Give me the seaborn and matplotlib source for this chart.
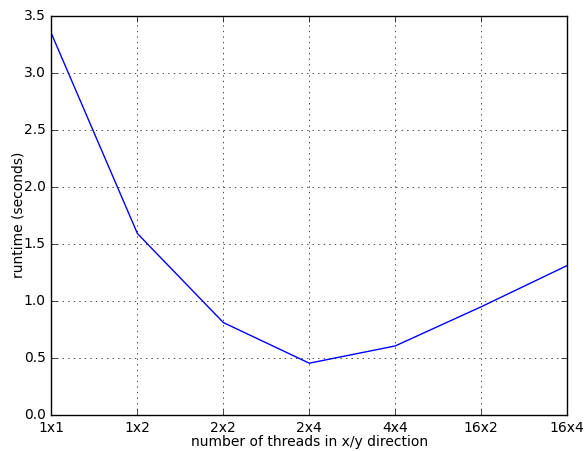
import matplotlib
matplotlib.use("Agg")
import matplotlib.pyplot as plt
import seaborn as sns
import pandas as pd

categories = ["1x1", "1x2", "2x2", "2x4", "4x4", "16x2", "16x4"]
runtime = [3.34, 1.59, 0.81, 0.454, 0.605, 0.948, 1.309]

plt.style.use("classic")
plt.rcParams["font.family"] = ["DejaVu Sans"]
plt.rcParams["font.size"] = 10
plt.rcParams["figure.facecolor"] = "white"

df = pd.DataFrame({"threads": categories, "runtime": runtime})

fig = plt.figure(figsize=(5.87, 4.51), dpi=100)
ax = fig.add_axes([0.0877, 0.0798, 0.966 - 0.0877, 0.9656 - 0.0798])
sns.lineplot(data=df, x="threads", y="runtime", sort=False, color="blue",
             linewidth=1.0, ax=ax)
ax.set_xlim(0, len(categories) - 1)
ax.set_ylim(0, 3.5)
ax.set_yticks([0.0, 0.5, 1.0, 1.5, 2.0, 2.5, 3.0, 3.5])
ax.set_xticks(range(len(categories)))
ax.set_xticklabels(categories)
ax.grid(True, linestyle=":", color="black", linewidth=0.5)
ax.set_xlabel("number of threads in x/y direction", labelpad=0)
ax.set_ylabel("runtime (seconds)", labelpad=-1)
fig.savefig("out.png", dpi=100, facecolor="white")
